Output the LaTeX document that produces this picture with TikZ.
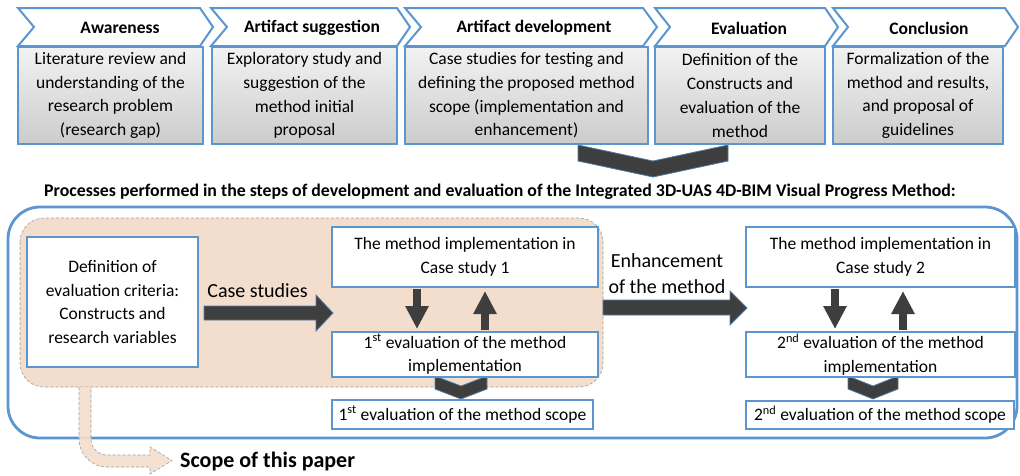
\documentclass[tikz,border=0pt]{standalone}
\usepackage{fontspec}
\setmainfont{Carlito}
\usetikzlibrary{arrows.meta,calc}
\definecolor{bl}{RGB}{91,150,208}
\definecolor{dk}{RGB}{62,62,62}
\definecolor{tanc}{RGB}{243,222,205}
\begin{document}
\begin{tikzpicture}[x=1pt,y=-1pt,
  chevbox/.style={draw=bl,line width=2pt,fill=white,line join=miter},
  hdr/.style={font=\fontsize{17.5}{21}\selectfont\bfseries,inner sep=0},
  gbox/.style={draw=bl,line width=2.2pt,top color=gray!10,bottom color=gray!40,align=center,inner sep=0,font=\fontsize{17.5}{23.7}\selectfont},
  wbox/.style={draw=bl,line width=2pt,fill=white,align=center,inner sep=0,font=\fontsize{17.5}{23.7}\selectfont},
  dkshape/.style={fill=dk,draw=bl!70!dk,line width=0.8pt,line join=miter},
  smallarrow/.style={draw=dk,line width=8pt,-{Triangle[width=22pt,length=23pt]}},
  biglabel/.style={font=\fontsize{20}{26}\selectfont,align=center,inner sep=0}]
\useasboundingbox (0,0) rectangle (1020,475);
\fill[white] (0,0) rectangle (1020,475);

% ---------- header chevrons ----------
\draw[chevbox] (18,8) -- (200,8) -- (213,27) -- (200,46) -- (18,46) -- (34,27) -- cycle;
\draw[chevbox] (211,8) -- (397,8) -- (410,27) -- (397,46) -- (211,46) -- (227,27) -- cycle;
\draw[chevbox] (405,8) -- (643,8) -- (657,27) -- (643,46) -- (405,46) -- (421,27) -- cycle;
\draw[chevbox] (655,8) -- (825,8) -- (838,27) -- (825,46) -- (655,46) -- (670,27) -- cycle;
\draw[chevbox] (833,8) -- (1005,8) -- (1018,27) -- (1005,46) -- (833,46) -- (848,27) -- cycle;
\node[hdr] (h1) at (120,28) {Awareness};
\node[hdr] (h2) at (312,28) {Artifact suggestion};
\node[hdr] (h3) at (534,28) {Artifact development};
\node[hdr] (h4) at (749,28) {Evaluation};
\node[hdr] (h5) at (929,28) {Conclusion};

% ---------- dark chevron below ----------
\draw[dkshape] (578,145) -- (653,161) -- (728,145) -- (728,161) -- (653,177) -- (578,161) -- cycle;

% ---------- grey content boxes ----------
\node[gbox,minimum width=185,minimum height=97] (b1) at (110.5,95.5)
  {Literature review and\\understanding of the\\research problem\\(research gap)};
\node[gbox,minimum width=185,minimum height=97] (b2) at (304.5,95.5)
  {Exploratory study and\\suggestion of the\\method initial\\proposal};
\node[gbox,minimum width=243,minimum height=97] (b3) at (526.5,95.5)
  {Case studies for testing and\\defining the proposed method\\scope (implementation and\\enhancement)};
\node[gbox,minimum width=170,minimum height=97] (b4) at (740,95.5)
  {Definition of the\\Constructs and\\evaluation of the\\method};
\node[gbox,minimum width=170,minimum height=97] (b5) at (918,95.5)
  {Formalization of the\\method and results,\\and proposal of\\guidelines};

% ---------- title ----------
\node[font=\fontsize{17.8}{21}\selectfont\bfseries,inner sep=0] (title) at (500,192)
  {Processes performed in the steps of development and evaluation of the Integrated 3D-UAS 4D-BIM Visual Progress Method:};

% ---------- outer frame and scope region ----------
\draw[bl,line width=2.8pt,rounded corners=32] (8,207) rectangle (1017,438);
\draw[fill=tanc,draw=gray!75,line width=0.6pt,dash pattern=on 3pt off 2pt,rounded corners=24] (20,218) rectangle (603,387);

% scope arrow
\path[fill=tanc,opacity=0.9] (79,387) -- (79,439) arc[start angle=180,end angle=90,radius=28]
  -- (150,467) -- (150,474) -- (172,460.5) -- (150,447) -- (150,455) -- (107,455)
  arc[start angle=90,end angle=180,radius=16] -- (91,387) -- cycle;
\draw[draw=gray!75,line width=0.6pt,dash pattern=on 3pt off 2pt] (79,387) -- (79,439) arc[start angle=180,end angle=90,radius=28]
  -- (150,467) -- (150,474) -- (172,460.5) -- (150,447) -- (150,455) -- (107,455)
  arc[start angle=90,end angle=180,radius=16] -- (91,387);
\node[font=\fontsize{22}{26}\selectfont\bfseries,inner sep=0,anchor=west] (scope) at (180,462) {Scope of this paper};

% ---------- bottom boxes ----------
\node[wbox,minimum width=171,minimum height=130] (def) at (112.5,302)
  {Definition of\\evaluation criteria:\\Constructs and\\research variables};

% small chevrons (behind boxes)
\draw[dkshape] (435,376) -- (461,386) -- (487,376) -- (487,389) -- (461,399) -- (435,389) -- cycle;
\draw[dkshape] (848,376) -- (873,386) -- (898,376) -- (898,389) -- (873,399) -- (848,389) -- cycle;

\node[wbox,minimum width=266,minimum height=60] (cs1) at (465,257)
  {The method implementation in\\Case study 1};
\node[wbox,minimum width=266,minimum height=45] (ev1) at (465,354.5)
  {1\textsuperscript{st} evaluation of the method\\implementation};
\node[wbox,minimum width=261,minimum height=29] (sc1) at (462.5,414.5)
  {1\textsuperscript{st} evaluation of the method scope};
\node[wbox,minimum width=269,minimum height=60] (cs2) at (880.5,257)
  {The method implementation in\\Case study 2};
\node[wbox,minimum width=269,minimum height=45] (ev2) at (880.5,354.5)
  {2\textsuperscript{nd} evaluation of the method\\implementation};
\node[wbox,minimum width=268,minimum height=28] (sc2) at (880,415)
  {2\textsuperscript{nd} evaluation of the method scope};

% small vertical arrows
\draw[smallarrow] ([xshift=-48pt,yshift=-1pt]cs1.south) -- ([xshift=-48pt,yshift=2pt]ev1.north);
\draw[smallarrow] ([xshift=20pt,yshift=1pt]ev1.north) -- ([xshift=20pt,yshift=-3pt]cs1.south);
\draw[smallarrow] ([xshift=-45.5pt,yshift=-1pt]cs2.south) -- ([xshift=-45.5pt,yshift=2pt]ev2.north);
\draw[smallarrow] ([xshift=22.5pt,yshift=1pt]ev2.north) -- ([xshift=22.5pt,yshift=-3pt]cs2.south);

% big horizontal arrows
\draw[dkshape] (204,306) -- (316,306) -- (316,295) -- (333,313) -- (316,331) -- (316,320) -- (204,320) -- cycle;
\draw[dkshape] (603,300) -- (730,300) -- (730,291) -- (747,308) -- (730,325) -- (730,315) -- (603,315) -- cycle;
\node[biglabel] (lcs) at (257.5,291) {Case studies};
\node[biglabel] (lenh) at (667,274) {Enhancement\\of the method};
\end{tikzpicture}
\end{document}
